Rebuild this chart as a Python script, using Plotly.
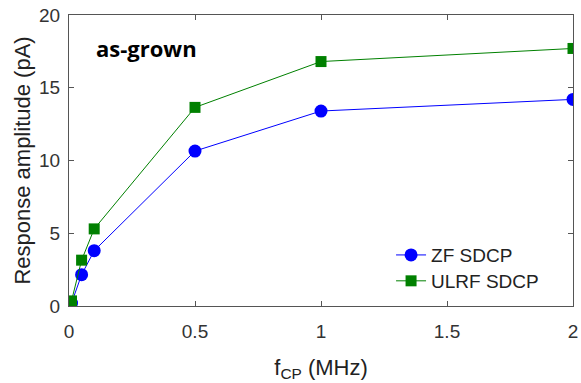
import plotly.graph_objects as go

freq = [0.01, 0.05, 0.1, 0.5, 1, 2]
zf_sdcp = [0.2, 2.15, 3.8, 10.65, 13.4, 14.2]
ulrf_sdcp = [0.35, 3.15, 5.3, 13.65, 16.8, 17.7]
x_ticks = [0, 0.5, 1, 1.5, 2]
x_labels = ["0", "0.5", "1", "1.5", "2"]
y_ticks = [0, 5, 10, 15, 20]

fig = go.Figure()
fig.add_trace(go.Scatter(x=freq, y=zf_sdcp, mode="lines+markers", name="ZF SDCP",
                         line=dict(color="#0000ff", width=1),
                         marker=dict(symbol="circle", size=13, color="#0000ff"),
                         legend="legend", showlegend=True))
fig.add_trace(go.Scatter(x=freq, y=ulrf_sdcp, mode="lines+markers", name="ULRF SDCP",
                         line=dict(color="#008000", width=1),
                         marker=dict(symbol="square", size=11, color="#008000"),
                         legend="legend2", showlegend=True))

axis_common = dict(showline=True, linecolor="#555555", linewidth=1, mirror="ticks",
                   ticks="inside", ticklen=5, tickcolor="#555555", showgrid=False,
                   zeroline=False, automargin=False,
                   tickfont=dict(family="Liberation Sans, Arial", size=19, color="#333333"))

fig.update_xaxes(range=[0, 2], tickvals=x_ticks, ticktext=x_labels, ticklabelstandoff=8,
                 title=dict(text="f<sub>CP</sub> (MHz)", font=dict(family="Liberation Sans, Arial", size=22, color="#222222"), standoff=18),
                 **axis_common)
fig.update_yaxes(range=[0, 20], tickvals=y_ticks, ticklabelstandoff=4,
                 title=dict(text="Response amplitude (pA)", font=dict(family="Liberation Sans, Arial", size=22, color="#222222"), standoff=2),
                 **axis_common)

fig.add_annotation(text="<b>as-grown</b>", xref="paper", yref="paper", x=0.05, y=0.885,
                   xanchor="left", yanchor="middle", showarrow=False,
                   font=dict(family="Open Sans", size=22, color="black"))

leg_common = dict(x=0.639, xanchor="left", yanchor="middle",
                  bgcolor="rgba(255,255,255,0)", borderwidth=0,
                  font=dict(family="Liberation Sans, Arial", size=19, color="#222222"),
                  itemwidth=30)

fig.update_layout(width=581, height=383, margin=dict(l=69, r=8, t=15, b=77),
                  plot_bgcolor="white", paper_bgcolor="white", showlegend=True,
                  legend=dict(y=0.175, **leg_common),
                  legend2=dict(y=0.086, **leg_common))

fig.write_html("out.html")
